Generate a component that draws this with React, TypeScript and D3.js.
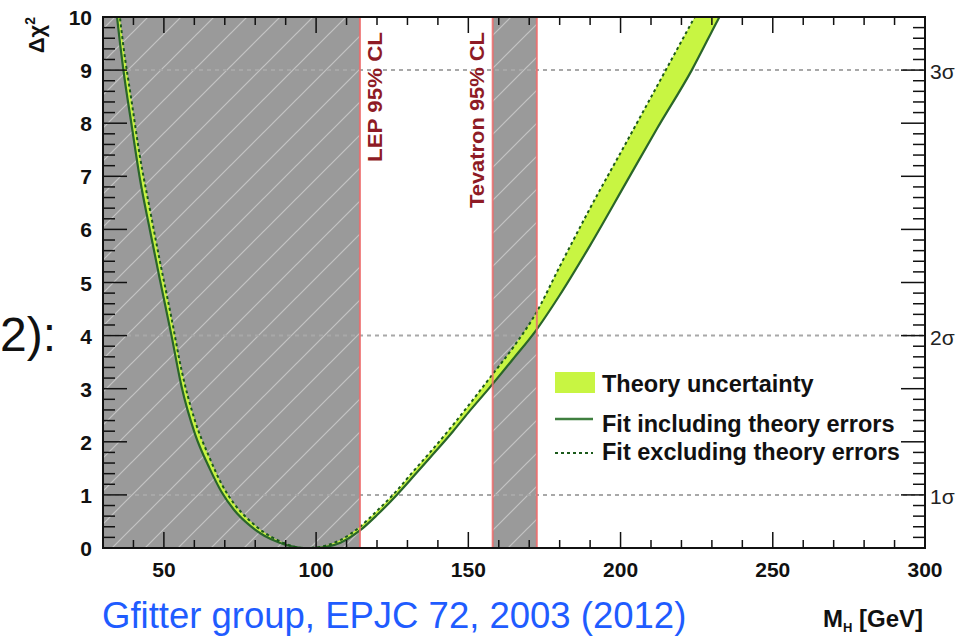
import React from 'react';
import * as d3 from 'd3';

// ---- data ----
const massGeV = [33.5, 34.6, 36.7, 39.3, 42.2, 45.4, 48.7, 52.5, 55.8, 60.2, 65, 69, 73, 78.3, 83, 88, 92, 96, 100, 104, 108, 114.4, 120, 126.5, 132, 137.4, 145, 150, 157, 165, 172, 180, 190, 202, 212, 223.4, 232, 240];
const chi2WithTheory = [10.6, 10, 9, 8, 6.93, 5.99, 5.05, 4.0, 3.04, 2.15, 1.5, 1.05, 0.72, 0.42, 0.23, 0.1, 0.03, 0, 0, 0.03, 0.1, 0.33, 0.62, 1.0, 1.35, 1.7, 2.2, 2.55, 3.02, 3.58, 4.08, 4.76, 5.7, 6.9, 7.9, 9.0, 9.95, 10.8];
const chi2NoTheory = [11.1, 10.5, 9.45, 8.45, 7.35, 6.38, 5.4, 4.33, 3.35, 2.4, 1.7, 1.2, 0.84, 0.51, 0.29, 0.13, 0.04, 0.0, 0.01, 0.06, 0.15, 0.4, 0.7, 1.08, 1.45, 1.8, 2.32, 2.68, 3.2, 3.8, 4.4, 5.3, 6.4, 7.65, 8.7, 9.9, 10.8, 11.6];

const xDomain = [30, 300];
const yDomain = [0, 10];
const xMajorTicks = [50, 100, 150, 200, 250, 300];
const yMajorTicks = [0, 1, 2, 3, 4, 5, 6, 7, 8, 9, 10];
const sigmaLevels = [1, 4, 9];
const sigmaLabels = ['1σ', '2σ', '3σ'];
const lepLimit = 114.4;
const tevatronRange = [158, 172.5];
const legendLabels = ['Theory uncertainty', 'Fit including theory errors', 'Fit excluding theory errors'];
const footerText = 'Gfitter group, EPJC 72, 2003 (2012)';

const W = 965;
const H = 637;
const L = 103, R = 925, T = 17, B = 548;
const FONT = '"Liberation Sans", Arial, Helvetica, sans-serif';

export default function App() {
  const x = d3.scaleLinear().domain(xDomain).range([L, R]);
  const y = d3.scaleLinear().domain(yDomain).range([B, T]);
  const idx = massGeV.map((_, i) => i);

  const band = d3.area<number>()
    .x(i => x(massGeV[i]))
    .y0(i => y(chi2WithTheory[i]))
    .y1(i => y(chi2NoTheory[i]))
    .curve(d3.curveMonotoneX)(idx) || '';
  const lineIncl = d3.line<number>()
    .x(i => x(massGeV[i]))
    .y(i => y(chi2WithTheory[i]))
    .curve(d3.curveMonotoneX)(idx) || '';
  const lineExcl = d3.line<number>()
    .x(i => x(massGeV[i]))
    .y(i => y(chi2NoTheory[i]))
    .curve(d3.curveMonotoneX)(idx) || '';

  const xMinor = d3.range(30, 301, 10).filter(v => !xMajorTicks.includes(v));
  const yMinor = d3.range(0, 10.001, 0.2).map(v => Math.round(v * 10) / 10).filter(v => Math.abs(v - Math.round(v)) > 1e-6);

  const green = '#c8f542';
  const solidGreen = '#2a662a';
  const dashGreen = '#1b5a1b';
  const red = '#ee6b6b';
  const gray = '#9a9a9a';

  return (
    <svg width={W} height={H} style={{ position: 'absolute', left: 0, top: 0, background: '#fff' }} xmlns="http://www.w3.org/2000/svg">
      <defs>
        <clipPath id="plotClip">
          <rect x={L} y={T} width={R - L} height={B - T} />
        </clipPath>
        <pattern id="hatch" patternUnits="userSpaceOnUse" width={33} height={33}>
          <rect x={0} y={0} width={33} height={33} fill={gray} />
          <line x1={0} y1={33} x2={33} y2={0} stroke="#c4c4c4" strokeWidth={1.2} />
          <line x1={-8} y1={8} x2={8} y2={-8} stroke="#c4c4c4" strokeWidth={1.2} />
          <line x1={25} y1={41} x2={41} y2={25} stroke="#c4c4c4" strokeWidth={1.2} />
        </pattern>
      </defs>

      <rect x={0} y={0} width={W} height={H} fill="#fff" />

      {/* excluded regions */}
      <rect x={L} y={T} width={x(lepLimit) - L} height={B - T} fill="url(#hatch)" />
      <rect x={x(tevatronRange[0])} y={T} width={x(tevatronRange[1]) - x(tevatronRange[0])} height={B - T} fill="url(#hatch)" />

      {/* sigma grid lines */}
      {sigmaLevels.map(s => (
        <line key={s} x1={L} x2={R} y1={y(s)} y2={y(s)} stroke="#a8a8a8" strokeWidth={2} strokeDasharray="4,4" />
      ))}

      {/* curves */}
      <g clipPath="url(#plotClip)">
        <path d={band} fill={green} stroke="none" />
        <path d={lineIncl} fill="none" stroke={solidGreen} strokeWidth={2.2} />
        <path d={lineExcl} fill="none" stroke={dashGreen} strokeWidth={2} strokeDasharray="3,3" />
      </g>

      {/* limit lines */}
      {[lepLimit, tevatronRange[0], tevatronRange[1]].map(v => (
        <line key={v} x1={x(v)} x2={x(v)} y1={T} y2={B} stroke={red} strokeWidth={2} opacity={0.85} />
      ))}

      {/* limit labels */}
      <text transform={`translate(${x(lepLimit) + 22},32) rotate(-90)`} textAnchor="end" fontFamily={FONT} fontWeight="bold" fontSize={21} fill="#8e1b25" textLength={130} lengthAdjust="spacingAndGlyphs">LEP 95% CL</text>
      <text transform={`translate(${x(tevatronRange[0]) - 9},32) rotate(-90)`} textAnchor="end" fontFamily={FONT} fontWeight="bold" fontSize={21} fill="#8e1b25" textLength={176} lengthAdjust="spacingAndGlyphs">Tevatron 95% CL</text>

      {/* ticks */}
      <g stroke="#111" strokeWidth={1.5}>
        {xMajorTicks.map(v => (
          <g key={'xm' + v}>
            <line x1={x(v)} x2={x(v)} y1={B} y2={B - 16} />
            <line x1={x(v)} x2={x(v)} y1={T} y2={T + 16} />
          </g>
        ))}
        {xMinor.map(v => (
          <g key={'xn' + v}>
            <line x1={x(v)} x2={x(v)} y1={B} y2={B - 8} />
            <line x1={x(v)} x2={x(v)} y1={T} y2={T + 8} />
          </g>
        ))}
        {yMajorTicks.map(v => (
          <g key={'ym' + v}>
            <line x1={L} x2={L + 24} y1={y(v)} y2={y(v)} />
            <line x1={R} x2={R - 24} y1={y(v)} y2={y(v)} />
          </g>
        ))}
        {yMinor.map(v => (
          <g key={'yn' + v}>
            <line x1={L} x2={L + 12} y1={y(v)} y2={y(v)} />
            <line x1={R} x2={R - 12} y1={y(v)} y2={y(v)} />
          </g>
        ))}
      </g>

      {/* frame */}
      <rect x={L} y={T} width={R - L} height={B - T} fill="none" stroke="#111" strokeWidth={2} />

      {/* tick labels */}
      {xMajorTicks.map(v => (
        <text key={'xl' + v} x={x(v)} y={577} textAnchor="middle" fontFamily={FONT} fontWeight="bold" fontSize={21} fill="#111">{v}</text>
      ))}
      {yMajorTicks.map(v => (
        <text key={'yl' + v} x={92} y={y(v) + 8} textAnchor="end" fontFamily={FONT} fontWeight="bold" fontSize={21} fill="#111">{v}</text>
      ))}
      {sigmaLevels.map((s, i) => (
        <text key={'sl' + s} x={930} y={y(s) + 9} fontFamily={FONT} fontSize={21} fill="#222">{sigmaLabels[i]}</text>
      ))}

      {/* axis titles */}
      <text x={923} y={627} textAnchor="end" fontFamily={FONT} fontWeight="bold" fontSize={24} fill="#111">
        M<tspan fontSize={13} dy={5}>H</tspan><tspan dy={-5}> [GeV]</tspan>
      </text>
      <text transform="translate(44,17) rotate(-90)" textAnchor="end" fontFamily={FONT} fontWeight="bold" fontSize={22} fill="#111">
        Δχ<tspan fontSize={14} dy={-9}>2</tspan>
      </text>

      {/* legend */}
      <rect x={555} y={372} width={40} height={21} fill={green} />
      <line x1={555} x2={593} y1={419} y2={419} stroke="#3f7f3f" strokeWidth={2.5} />
      <line x1={555} x2={593} y1={453} y2={453} stroke={dashGreen} strokeWidth={2} strokeDasharray="3,3" />
      {legendLabels.map((t, i) => (
        <text key={t} x={602} y={[392, 432, 460][i]} fontFamily={FONT} fontWeight="bold" fontSize={23.5} fill="#111">{t}</text>
      ))}

      {/* slide leftovers */}
      <text x={0} y={351} fontFamily={FONT} fontSize={48} fill="#111">2):</text>
      <text x={102} y={628} fontFamily={FONT} fontSize={36.5} fill="#1f5cff">{footerText}</text>
    </svg>
  );
}
